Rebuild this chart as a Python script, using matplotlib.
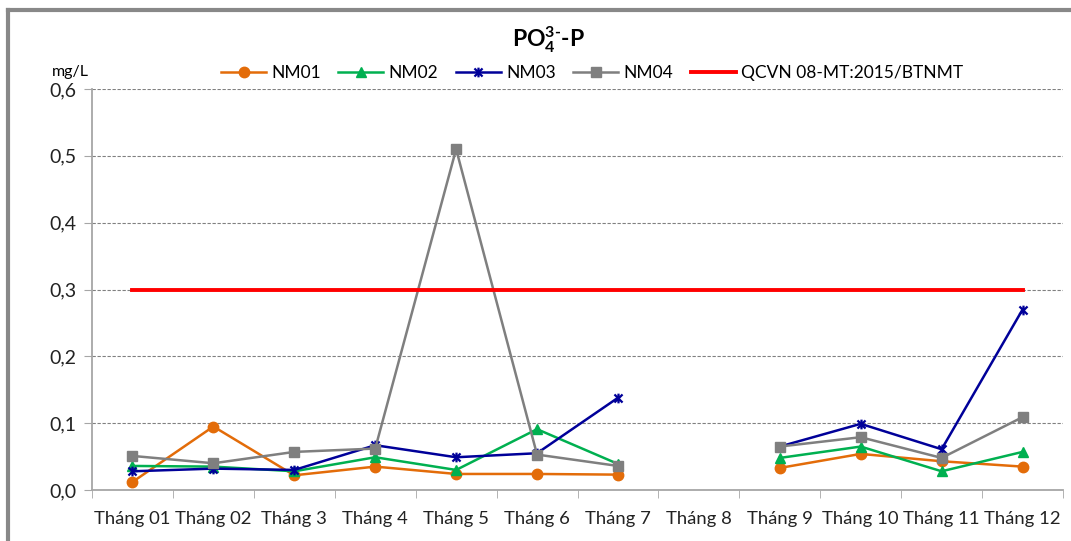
import matplotlib as mpl

mpl.use('Agg')

import matplotlib.pyplot as plt
import numpy as np
from matplotlib.path import Path
from matplotlib.lines import Line2D

plt.rcParams['font.family'] = ['Lato', 'DejaVu Sans']
plt.rcParams['mathtext.fontset'] = 'custom'
plt.rcParams['mathtext.rm'] = 'Lato:bold'
plt.rcParams['mathtext.bf'] = 'Lato:bold'
plt.rcParams['mathtext.default'] = 'bf'

# monthly results, mg/L (no sampling in month 8)
months = ['Tháng 01', 'Tháng 02', 'Tháng 3', 'Tháng 4', 'Tháng 5', 'Tháng 6',
          'Tháng 7', 'Tháng 8', 'Tháng 9', 'Tháng 10', 'Tháng 11', 'Tháng 12']
nm01 = [0.012, 0.095, 0.022, 0.035, 0.024, 0.024, 0.023, np.nan, 0.033, 0.054, 0.043, 0.035]
nm02 = [0.036, 0.035, 0.028, 0.049, 0.030, 0.091, 0.039, np.nan, 0.048, 0.065, 0.028, 0.057]
nm03 = [0.028, 0.032, 0.030, 0.067, 0.049, 0.055, 0.138, np.nan, 0.065, 0.099, 0.061, 0.270]
nm04 = [0.051, 0.040, 0.057, 0.062, 0.510, 0.053, 0.036, np.nan, 0.065, 0.079, 0.048, 0.109]
qcvn = [0.3] * 12

# asterisk marker: x with a vertical stroke
star = Path([(-1, -1), (1, 1), (-1, 1), (1, -1), (0, -1.2), (0, 1.2)],
            [Path.MOVETO, Path.LINETO, Path.MOVETO, Path.LINETO, Path.MOVETO, Path.LINETO])

fig = plt.figure(figsize=(10.71, 5.41), dpi=100)
ax = fig.add_axes([92 / 1071, 1 - 490 / 541, (1063 - 92) / 1071, (490 - 89) / 541])

x = np.arange(len(months))
ax.plot(x, nm01, color='#E36C09', lw=1.8, marker='o', ms=7.5, label='NM01')
ax.plot(x, nm02, color='#00B050', lw=1.8, marker='^', ms=7.5, label='NM02')
ax.plot(x, nm03, color='#000099', lw=1.8, marker=star, ms=7, mew=1.6, label='NM03')
ax.plot(x, nm04, color='#7F7F7F', lw=1.8, marker='s', ms=7, label='NM04')
ax.plot(x, qcvn, color='#FF0000', lw=2.8, label='QCVN 08-MT:2015/BTNMT')

ax.set_xlim(-0.5, len(months) - 0.5)
ax.set_ylim(0, 0.6)
ax.set_yticks(np.arange(0, 0.61, 0.1))
ax.set_yticklabels([f'{v:.1f}'.replace('.', ',') for v in np.arange(0, 0.61, 0.1)])
ax.set_xticks(x)
ax.set_xticklabels(months)
ax.set_xticks(np.arange(-0.5, len(months)), minor=True)
ax.tick_params(axis='x', which='major', length=0, pad=15, labelsize=13.3, colors='#222222')
ax.tick_params(axis='x', which='minor', length=6, color='#A6A6A6')
ax.tick_params(axis='y', length=6, color='#A6A6A6', labelsize=14, colors='#222222', pad=5)
ax.yaxis.grid(True, ls=(0, (3, 1.5)), color='#808080', lw=0.8)
for s in ['top', 'right']:
    ax.spines[s].set_visible(False)
for s in ['left', 'bottom']:
    ax.spines[s].set_color('#A6A6A6')
    ax.spines[s].set_linewidth(1.3)

fig.text(548 / 1071, 1 - 40 / 541, 'PO$_4^{3\u2010}$-P', ha='center', va='center',
         fontsize=16.5, fontweight='bold')
fig.text(70 / 1071, 1 - 72 / 541, 'mg/L', ha='center', va='center', fontsize=11.5)
fig.legend(loc='center', bbox_to_anchor=(592 / 1071, 1 - 73 / 541), ncol=5, frameon=False,
           fontsize=12.5, handlelength=2.6, columnspacing=1.0, handletextpad=0.3)

# chart border
fig.add_artist(Line2D([8 / 1071, 1], [1 - 10 / 541] * 2, color='#888888', lw=3))
fig.add_artist(Line2D([8 / 1071] * 2, [0, 1 - 10 / 541], color='#888888', lw=3))

plt.savefig('out.png', dpi=100)
